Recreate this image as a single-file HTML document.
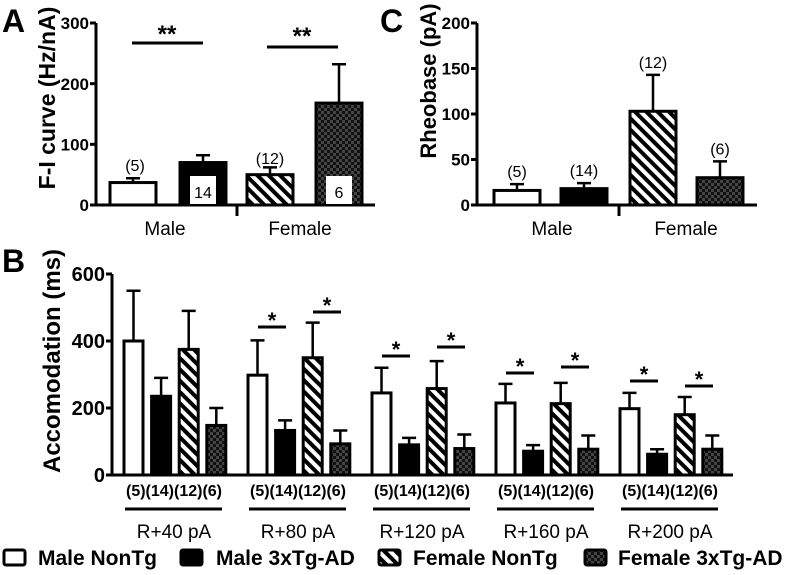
<!DOCTYPE html>
<html><head><meta charset="utf-8"><style>
body{margin:0;background:#fff;}
svg text{font-family:"Liberation Sans",Arial,sans-serif;}
.b{font-weight:bold;}
</style></head><body>
<svg id="s" width="787" height="570" viewBox="0 0 787 570" xmlns="http://www.w3.org/2000/svg">
<defs>
<pattern id="hatch" patternUnits="userSpaceOnUse" width="8" height="8" patternTransform="rotate(-45)">
<rect width="8" height="8" fill="#fff"/><rect width="4" height="8" fill="#000"/></pattern>
<pattern id="check" patternUnits="userSpaceOnUse" width="6" height="6">
<rect width="6" height="6" fill="#111"/><rect width="3" height="3" fill="#444"/><rect x="3" y="3" width="3" height="3" fill="#444"/></pattern>
</defs>
<g id="A"></g>
<g id="C"></g>
<g id="B"></g>
<g id="L"></g>
</svg>
<script>
const groups=['Male NonTg','Male 3xTg-AD','Female NonTg','Female 3xTg-AD'];
const fills=['#fff','#000','url(#hatch)','url(#check)'];
const aVals=[37,70,50,168];
const aErr=[44,82,62,232];
const aTicks=[0,100,200,300];
const cVals=[16,18,103,30];
const cErr=[23,24,143,48];
const cTicks=[0,50,100,150,200];
const bCats=['R+40 pA','R+80 pA','R+120 pA','R+160 pA','R+200 pA'];
const bMaleNon=[400,298,245,215,198];
const bMaleNonErr=[550,402,320,272,245];
const bMale3x=[235,133,90,71,62];
const bMale3xErr=[290,163,111,89,77];
const bFemNon=[375,350,258,213,180];
const bFemNonErr=[490,455,340,275,233];
const bFem3x=[148,93,79,77,77];
const bFem3xErr=[200,133,121,118,118];
const bTicks=[0,200,400,600];
const bSig1=[null,327,356,373,381];
const bSig2=[null,312,347,367,386];
const NS='http://www.w3.org/2000/svg';
function mk(p,t,a,txt){const e=document.createElementNS(NS,t);for(const k in a)e.setAttribute(k,a[k]);if(txt!==undefined)e.textContent=txt;p.appendChild(e);return e;}
function yA(v){return 205-v*(182/300);}
function yC(v){return 205-v*(182/200);}
function yB(v){return 475-v*(201/600);}
function bar(g,x,w,y0,y,fill,errY,name){
  const r=mk(g,'rect',{x:x,y:y,width:w,height:y0-y,fill:fill,stroke:'#000','stroke-width':3});
  
  
  const e=mk(g,'path',{d:`M${x+w/2} ${y}V${errY}M${x+w/2-7} ${errY}H${x+w/2+7}`,stroke:'#000','stroke-width':2.5,fill:'none'});
  
  
}
function yaxis(g,x,ticks,yf,fs,title,tfs,tx,ty){
  mk(g,'path',{d:`M${x} ${yf(ticks[ticks.length-1])}V${yf(0)}`,stroke:'#000','stroke-width':3});
  ticks.forEach(t=>{mk(g,'path',{d:`M${x-6} ${yf(t)}H${x}`,stroke:'#000','stroke-width':3});
    const l=mk(g,'text',{x:x-7,y:yf(t)+fs*0.36,'text-anchor':'end','font-size':fs,class:'b'},t);
    
    });
  const tt=mk(g,'text',{x:tx,y:ty,'text-anchor':'middle','font-size':tfs,class:'b',transform:`rotate(-90 ${tx} ${ty})`},title);
  
  
}
// Panel A
const A=document.getElementById('A');
mk(A,'text',{x:2,y:32,'font-size':32,class:'b'},'A');
yaxis(A,96,aTicks,yA,17,'F-I curve (Hz/nA)',23,55,98);
mk(A,'path',{d:'M96 205H375M237 205V216',stroke:'#000','stroke-width':3});
const ax=[110,180,247,316];
aVals.forEach((v,i)=>bar(A,ax[i],46,205,yA(v),fills[i],yA(aErr[i]),'a-bar-'+i));
mk(A,'rect',{x:190,y:176,width:26,height:28,fill:'#fff'});
mk(A,'text',{x:203,y:198,'text-anchor':'middle','font-size':16},'14');
mk(A,'rect',{x:326,y:176,width:26,height:28,fill:'#fff'});
mk(A,'text',{x:339,y:198,'text-anchor':'middle','font-size':16},'6');
mk(A,'text',{x:135,y:171,'text-anchor':'middle','font-size':16},'(5)');
mk(A,'text',{x:270,y:164,'text-anchor':'middle','font-size':16},'(12)');
mk(A,'path',{d:'M132 43H203M267 47H338',stroke:'#000','stroke-width':3});
mk(A,'text',{x:167,y:42,'text-anchor':'middle','font-size':24,class:'b'},'**');
mk(A,'text',{x:302,y:44,'text-anchor':'middle','font-size':24,class:'b'},'**');
mk(A,'text',{x:165,y:235,'text-anchor':'middle','font-size':19},'Male');
mk(A,'text',{x:300,y:235,'text-anchor':'middle','font-size':19},'Female');
// Panel C
const C=document.getElementById('C');
mk(C,'text',{x:380,y:32,'font-size':32,class:'b'},'C');
yaxis(C,477,cTicks,yC,17,'Rheobase (pA)',22,436,81);
mk(C,'path',{d:'M477 205H757M619 205V216',stroke:'#000','stroke-width':3});
const cx=[494,561,630,697];
cVals.forEach((v,i)=>{bar(C,cx[i],46,205,yC(v),fills[i],yC(cErr[i]),'c-bar-'+i);
  mk(C,'text',{x:cx[i]+23,y:yC(cErr[i])-7,'text-anchor':'middle','font-size':16},['(5)','(14)','(12)','(6)'][i]);});
mk(C,'text',{x:552,y:235,'text-anchor':'middle','font-size':19},'Male');
mk(C,'text',{x:686,y:235,'text-anchor':'middle','font-size':19},'Female');
// Panel B
const B=document.getElementById('B');
mk(B,'text',{x:2,y:272,'font-size':32,class:'b'},'B');
yaxis(B,112,bTicks,yB,20,'Accomodation (ms)',24,60,361);
mk(B,'path',{d:'M112 475H733',stroke:'#000','stroke-width':3});
const series=[[bMaleNon,bMaleNonErr],[bMale3x,bMale3xErr],[bFemNon,bFemNonErr],[bFem3x,bFem3xErr]];
bCats.forEach((c,k)=>{const gx=124+k*124;
  series.forEach((s,i)=>bar(B,gx+i*27.6,19,475,yB(s[0][k]),fills[i],yB(s[1][k]),'b-bar-'+k+'-'+i));
  mk(B,'text',{x:gx+50,y:496,'text-anchor':'middle','font-size':16,class:'b'},'(5)(14)(12)(6)');
  mk(B,'path',{d:`M${gx+1} 509H${gx+98}`,stroke:'#000','stroke-width':3});
  const gl=mk(B,'text',{x:gx+50,y:538,'text-anchor':'middle','font-size':19},c);
  
  
  if(bSig1[k]){mk(B,'path',{d:`M${gx+10} ${bSig1[k]}H${gx+38}M${gx+65} ${bSig2[k]}H${gx+93}`,stroke:'#000','stroke-width':3});
    mk(B,'text',{x:gx+24,y:bSig1[k]+1,'text-anchor':'middle','font-size':22,class:'b'},'*');
    mk(B,'text',{x:gx+79,y:bSig2[k]+1,'text-anchor':'middle','font-size':22,class:'b'},'*');}
});
// Legend
const L=document.getElementById('L');
const lx=[4,181,379,585];
const tx=[38,216,413,618];
groups.forEach((g,i)=>{
  const r=mk(L,'rect',{x:lx[i],y:550,width:21,height:15,fill:fills[i],stroke:'#000','stroke-width':3,rx:2});
  
  
  const t=mk(L,'text',{x:tx[i],y:565,'font-size':21,class:'b'},g);
  
  
});
</script>
</body></html>
